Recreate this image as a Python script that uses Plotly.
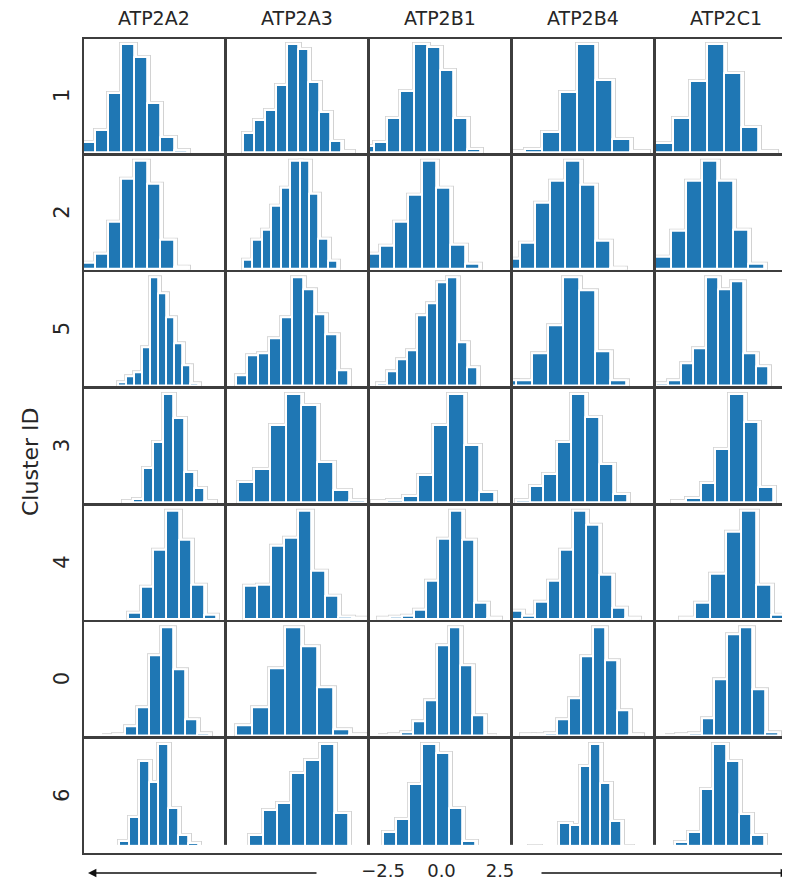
import plotly.graph_objects as go

# ---------------- data ----------------
genes = ["ATP2A2", "ATP2A3", "ATP2B1", "ATP2B4", "ATP2C1"]
clusters = ["1", "2", "5", "3", "4", "0", "6"]
bottom_ticks = [-2.5, 0.0, 2.5]
bottom_ticktext = ["\u22122.5", "0.0", "2.5"]

# for every gene: left edge of the first bin, bin width and the relative bin heights
# (one entry per cluster, in the row order of `clusters`)
ATP2A2_start = [-3.04, -3.04, -1.48, -1.29, -1.056, -2.23, -2.286]
ATP2A2_width = [0.56, 0.56, 0.34, 0.433, 0.538, 0.514, 0.42]
ATP2A2_counts = [
    [0.09, 0.20, 0.55, 1.0, 0.88, 0.46, 0.14, 0.015],
    [0.06, 0.14, 0.44, 0.84, 1.0, 0.79, 0.27, 0.02],
    [0.03, 0.085, 0.12, 0.35, 1.0, 0.86, 0.63, 0.39, 0.19, 0.015],
    [0.01, 0.03, 0.32, 0.56, 1.0, 0.78, 0.28, 0.13, 0.01],
    [0.06, 0.30, 0.64, 1.0, 0.73, 0.32, 0.035],
    [0.003, 0.01, 0.08, 0.26, 0.74, 1.0, 0.61, 0.15, 0.02],
    [0.005, 0.04, 0.10, 0.33, 0.85, 0.65, 1.0, 0.41, 0.16, 0.08],
]

ATP2A3_start = [-2.268, -2.286, -2.58, -2.478, -2.232, -2.556, -2.02]
ATP2A3_width = [0.467, 0.406, 0.48, 0.677, 0.577, 0.69, 0.606]
ATP2A3_counts = [
    [0.18, 0.30, 0.39, 0.62, 1.0, 0.96, 0.65, 0.37, 0.10, 0.01],
    [0.08, 0.27, 0.36, 0.59, 0.75, 1.0, 1.0, 0.70, 0.28, 0.07],
    [0.09, 0.28, 0.30, 0.44, 0.63, 1.0, 0.89, 0.66, 0.47, 0.14],
    [0.19, 0.31, 0.72, 1.0, 0.90, 0.37, 0.11, 0.02],
    [0.31, 0.32, 0.68, 0.75, 1.0, 0.45, 0.21, 0.015, 0.01],
    [0.09, 0.26, 0.62, 1.0, 0.83, 0.45, 0.06, 0.01],
    [0.16, 0.39, 0.455, 0.73, 0.86, 1.0, 0.36, 0.005, 0.01],
]

ATP2B1_start = [-3.356, -3.132, -2.652, -2.868, -2.634, -2.652, -2.94]
ATP2B1_width = [0.567, 0.604, 0.427, 0.654, 0.519, 0.51, 0.558]
ATP2B1_counts = [
    [0.06, 0.09, 0.32, 0.57, 1.0, 0.98, 0.76, 0.32, 0.03],
    [0.14, 0.21, 0.44, 0.69, 1.0, 0.75, 0.22, 0.05],
    [0.02, 0.13, 0.24, 0.33, 0.65, 0.76, 0.96, 1.0, 0.40, 0.17],
    [0.005, 0.015, 0.06, 0.25, 0.72, 1.0, 0.53, 0.09],
    [0.005, 0.02, 0.03, 0.08, 0.35, 0.74, 1.0, 0.73, 0.15, 0.005],
    [0.003, 0.01, 0.025, 0.13, 0.33, 0.84, 1.0, 0.65, 0.19, 0.003],
    [0.04, 0.19, 0.31, 0.63, 1.0, 0.92, 0.41, 0.10],
]

ATP2B4_start = [-3.21, -3.3, -3.48, -2.844, -3.132, -2.616, -2.286]
ATP2B4_width = [0.75, 0.64, 0.67, 0.594, 0.552, 0.513, 0.438]
ATP2B4_counts = [
    [0.01, 0.03, 0.19, 0.56, 1.0, 0.67, 0.12, 0.01],
    [0.09, 0.24, 0.61, 0.82, 1.0, 0.78, 0.26, 0.01],
    [0.05, 0.05, 0.30, 0.56, 1.0, 0.88, 0.32, 0.05],
    [0.02, 0.15, 0.26, 0.56, 1.0, 0.79, 0.35, 0.07],
    [0.07, 0.03, 0.16, 0.35, 0.645, 1.0, 0.87, 0.41, 0.10, 0.005],
    [0.005, 0.01, 0.02, 0.15, 0.34, 0.73, 1.0, 0.70, 0.23, 0.01],
    [0.06, 0.01, 0.04, 0.27, 0.25, 0.80, 1.0, 0.64, 0.29, 0.06],
]

ATP2C1_start = [-2.98, -3.0, -2.964, -2.286, -1.92, -2.634, -2.676]
ATP2C1_width = [0.732, 0.666, 0.534, 0.618, 0.648, 0.544, 0.544]
ATP2C1_counts = [
    [0.08, 0.32, 0.66, 1.0, 0.73, 0.23, 0.01],
    [0.11, 0.35, 0.82, 1.0, 0.82, 0.36, 0.05],
    [0.015, 0.05, 0.20, 0.34, 1.0, 0.89, 0.97, 0.30, 0.18],
    [0.01, 0.04, 0.18, 0.49, 1.0, 0.74, 0.14],
    [0.005, 0.15, 0.42, 0.81, 1.0, 0.32, 0.035],
    [0.003, 0.01, 0.02, 0.155, 0.52, 0.94, 1.0, 0.43, 0.03],
    [0.01, 0.09, 0.185, 0.59, 1.0, 0.85, 0.35, 0.16, 0.005],
]

gene_data = {
    "ATP2A2": (ATP2A2_start, ATP2A2_width, ATP2A2_counts),
    "ATP2A3": (ATP2A3_start, ATP2A3_width, ATP2A3_counts),
    "ATP2B1": (ATP2B1_start, ATP2B1_width, ATP2B1_counts),
    "ATP2B4": (ATP2B4_start, ATP2B4_width, ATP2B4_counts),
    "ATP2C1": (ATP2C1_start, ATP2C1_width, ATP2C1_counts),
}

# ---------------- layout geometry (page pixels) ----------------
PAGE_W, PAGE_H = 790, 882
OFF = 8                      # default body margin of the html page
W, H = PAGE_W - OFF, PAGE_H - OFF
PLOT_L, PLOT_R, PLOT_T, PLOT_B = 84, 790, 38, 853   # page px of the plot area
ML, MR, MT, MB = PLOT_L - OFF, (OFF + W) - PLOT_R, PLOT_T - OFF, (OFF + H) - PLOT_B
PW = PLOT_R - PLOT_L
PH = PLOT_B - PLOT_T
COL_STEP, COL_W = 143.0, 140.0
ROW_TOP0, ROW_STEP, ROW_H = 39.0, 116.67, 114.0
XR = (-3.0, 3.0)          # data range of a full-width panel
YMAX = 1.06

BLUE = "#1f77b4"
HALO = "#d2d2d2"
BORDER = "#3d3d3d"
TXT = "#262626"
FONT = "DejaVu Sans"


def px_to_xpaper(px):
    return (px - PLOT_L) / PW


def px_to_ypaper(py):
    return (PLOT_B - py) / PH


fig = go.Figure()
layout_axes = {}

for r, cl in enumerate(clusters):
    top = ROW_TOP0 + r * ROW_STEP
    bot = top + ROW_H
    ydom = [max(0.0, px_to_ypaper(bot)), min(1.0, px_to_ypaper(top))]
    for c, g in enumerate(genes):
        k = r * len(genes) + c + 1
        left = PLOT_L + c * COL_STEP
        right = left + COL_W
        right_clip = min(right, PLOT_R)
        xdom = [px_to_xpaper(left), min(1.0, px_to_xpaper(right_clip))]
        xr = [XR[0], XR[0] + (XR[1] - XR[0]) * (right_clip - left) / COL_W]

        start_list, width_list, counts_list = gene_data[g]
        x0, w, counts = start_list[r], width_list[r], counts_list[r]
        centers = [x0 + w * (i + 0.5) for i in range(len(counts))]
        widths = [w] * len(counts)
        xa = "x" if k == 1 else f"x{k}"
        ya = "y" if k == 1 else f"y{k}"

        for fill, lcol, lw in [(HALO, HALO, 6), ("white", "white", 4.2), (BLUE, "white", 1.8)]:
            fig.add_trace(go.Bar(
                x=centers, y=counts, width=widths,
                marker=dict(color=fill, line=dict(color=lcol, width=lw)),
                xaxis=xa, yaxis=ya, showlegend=False, hoverinfo="skip",
            ))

        xname = "xaxis" if k == 1 else f"xaxis{k}"
        yname = "yaxis" if k == 1 else f"yaxis{k}"
        layout_axes[xname] = dict(
            domain=xdom, anchor=ya, range=xr, showgrid=False, zeroline=False,
            showticklabels=False, ticks="", showline=True, mirror=True,
            linecolor=BORDER, linewidth=2, fixedrange=True,
        )
        layout_axes[yname] = dict(
            domain=ydom, anchor=xa, range=[0, YMAX], showgrid=False, zeroline=False,
            showticklabels=False, ticks="", showline=True,
            mirror=(right_clip >= right), linecolor=BORDER, linewidth=2, fixedrange=True,
        )

# shared bottom axis with the -2.5 / 0.0 / 2.5 ticks
NB = len(clusters) * len(genes) + 1
px_per_unit = 23.4
zero_px = 441.5
bx_range = [(PLOT_L - zero_px) / px_per_unit, (PLOT_R - zero_px) / px_per_unit]
fig.add_trace(go.Scatter(
    x=bottom_ticks, y=[0] * len(bottom_ticks), mode="markers",
    marker=dict(opacity=0), xaxis=f"x{NB}", yaxis=f"y{NB}",
    showlegend=False, hoverinfo="skip",
))
layout_axes[f"xaxis{NB}"] = dict(
    domain=[0, 1], anchor=f"y{NB}", range=bx_range, showgrid=False, zeroline=False,
    showline=False, ticks="", tickvals=bottom_ticks, ticktext=bottom_ticktext,
    tickfont=dict(family=FONT, size=18, color=TXT), ticklabelstandoff=5, fixedrange=True,
)
layout_axes[f"yaxis{NB}"] = dict(domain=[0, 0.01], anchor=f"x{NB}", range=[0, 1],
                                  visible=False, fixedrange=True)

annotations = []
# column titles
for c, g in enumerate(genes):
    cx = PLOT_L + c * COL_STEP + COL_W / 2
    annotations.append(dict(
        text=g, x=px_to_xpaper(cx), y=px_to_ypaper(18), xref="paper", yref="paper",
        showarrow=False, xanchor="center", yanchor="middle",
        font=dict(family=FONT, size=19, color=TXT),
    ))
# row labels
for r, cl in enumerate(clusters):
    cy = ROW_TOP0 + r * ROW_STEP + ROW_H / 2
    annotations.append(dict(
        text=cl, x=px_to_xpaper(62), y=px_to_ypaper(cy), xref="paper", yref="paper",
        showarrow=False, xanchor="center", yanchor="middle", textangle=-90,
        font=dict(family=FONT, size=21, color=TXT),
    ))
annotations.append(dict(
    text="Cluster ID", x=px_to_xpaper(30), y=px_to_ypaper(462), xref="paper", yref="paper",
    showarrow=False, xanchor="center", yanchor="middle", textangle=-90,
    font=dict(family=FONT, size=22, color=TXT),
))
# arrows along the bottom axis
arrow_y = px_to_ypaper(873)
for head_px, tail_px in [(88, 318), (789, 540)]:
    annotations.append(dict(
        text="", x=(head_px - zero_px) / px_per_unit, ax=(tail_px - zero_px) / px_per_unit,
        xref=f"x{NB}", axref=f"x{NB}", y=arrow_y, yref="paper", ay=0, ayref="pixel",
        showarrow=True, arrowhead=2, arrowsize=1.2, arrowwidth=1.4, arrowcolor="#111111",
        standoff=0, startstandoff=0,
    ))

fig.update_layout(
    width=W, height=H, margin=dict(l=ML, r=MR, t=MT, b=MB, pad=0),
    paper_bgcolor="white", plot_bgcolor="white", barmode="overlay", bargap=0,
    showlegend=False, hovermode=False, annotations=annotations,
    font=dict(family=FONT, color=TXT), **layout_axes,
)

fig.write_html("out.html", config={"displayModeBar": False})
